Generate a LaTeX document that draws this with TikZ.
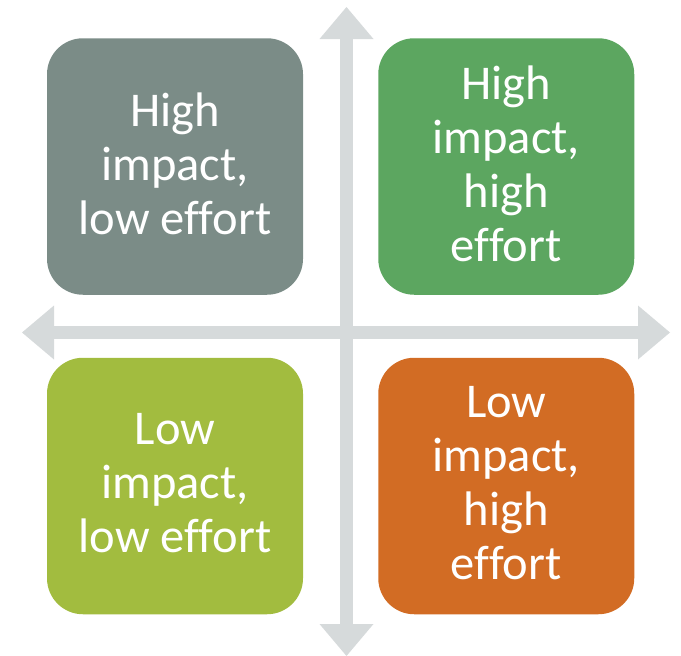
\documentclass[tikz,border=0pt]{standalone}
\usepackage{fontspec}
\setmainfont[Ligatures=NoCommon]{Carlito}
\usetikzlibrary{arrows.meta}
\definecolor{cgrey}{RGB}{123,140,135}
\definecolor{cgreen}{RGB}{92,166,96}
\definecolor{clime}{RGB}{162,188,63}
\definecolor{corange}{RGB}{210,108,36}
\definecolor{caxis}{RGB}{214,218,219}
\tikzset{
  quad/.style={minimum width=256pt, minimum height=256.5pt, rounded corners=36pt,
    inner sep=0pt},
  qtext/.style={text=white, align=center, inner sep=0pt,
    font=\fontsize{48.5}{54}\selectfont},
  axis/.style={draw=caxis, line width=13pt,
    arrows={Triangle[length=32pt,width=54pt,line width=0pt,fill=caxis]-Triangle[length=32pt,width=54pt,line width=0pt,fill=caxis]}}
}
\begin{document}
\begin{tikzpicture}[x=1pt,y=-1pt]
\useasboundingbox (0,0) rectangle (681,656);
\coordinate (top) at (346.5,7);
\coordinate (bottom) at (346.5,656);
\coordinate (left) at (22,332.5);
\coordinate (right) at (670,332.5);
\draw[axis] (bottom) -- (top);
\draw[axis] (left) -- (right);
\node[quad, fill=cgrey] (hl) at (175,166.5) {};
\node[quad, fill=cgreen] (hh) at (506.25,166.5) {};
\node[quad, fill=clime] (ll) at (175,486) {};
\node[quad, fill=corange] (lh) at (506.25,486) {};
\node[qtext] (hlt) at ([yshift=3pt]hl.center) {High\\impact,\\low effort};
\node[qtext] (hht) at ([yshift=3pt]hh.center) {High\\impact,\\high\\effort};
\node[qtext] (llt) at ([yshift=3pt]ll.center) {Low\\impact,\\low effort};
\node[qtext] (lht) at ([yshift=3pt]lh.center) {Low\\impact,\\high\\effort};
\end{tikzpicture}
\end{document}
